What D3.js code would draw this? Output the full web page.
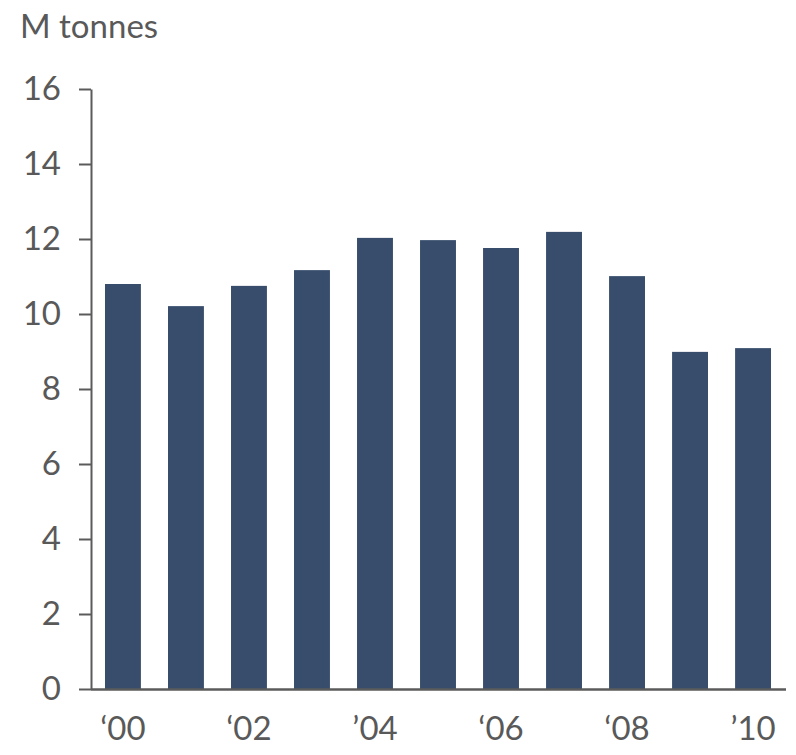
<!DOCTYPE html>
<html>
<head>
<meta charset="utf-8">
<script src="https://cdn.jsdelivr.net/npm/d3@7"></script>
<style>
  html, body { margin: 0; padding: 0; background: #fff; }
  svg text { font-family: Lato, "Open Sans", sans-serif; fill: #595959; }
</style>
</head>
<body>
<svg id="chart" width="796" height="755"></svg>
<script>
// Annual volume, million tonnes
const years = [2000, 2001, 2002, 2003, 2004, 2005, 2006, 2007, 2008, 2009, 2010];
const values = [10.8, 10.21, 10.75, 11.17, 12.03, 11.97, 11.76, 12.19, 11.01, 8.99, 9.09];
const yTicks = [0, 2, 4, 6, 8, 10, 12, 14, 16];
const xTickYears = [2000, 2002, 2004, 2006, 2008, 2010];
const xTickLabels = ["\u201800", "\u201802", "\u201904", "\u201806", "\u201808", "\u201910"];
const unitLabel = "M tonnes";

const svg = d3.select("#chart");
const axisColor = "#5b5b5b";
const barColor = "#374d6b";

const plot = { left: 91, right: 785, top: 89, bottom: 689 };

const x = d3.scaleBand()
  .domain(years)
  .range([plot.left, plot.right])
  .paddingInner(0.43)
  .paddingOuter(0.222);

const y = d3.scaleLinear().domain([0, 16]).range([plot.bottom, plot.top]);

// bars
svg.append("g")
  .selectAll("rect")
  .data(years)
  .join("rect")
  .attr("x", d => x(d))
  .attr("width", x.bandwidth())
  .attr("y", (d, i) => y(values[i]))
  .attr("height", (d, i) => y(0) - y(values[i]))
  .attr("fill", barColor);

// y axis
const yAxis = svg.append("g")
  .attr("transform", `translate(${plot.left},0)`)
  .call(d3.axisLeft(y).tickValues(yTicks).tickSize(12).tickPadding(18).tickSizeOuter(0));
yAxis.select(".domain").attr("stroke", axisColor).attr("stroke-width", 2);
yAxis.selectAll(".tick line").attr("stroke", axisColor).attr("stroke-width", 2);
yAxis.selectAll(".tick text")
  .attr("font-size", 33)
  .attr("fill", "#595959")
  .style("font-family", "Lato, 'Open Sans', sans-serif");

// x axis
const xAxis = svg.append("g")
  .attr("transform", `translate(0,${plot.bottom})`)
  .call(d3.axisBottom(x)
    .tickValues(xTickYears)
    .tickFormat(d => xTickLabels[xTickYears.indexOf(d)])
    .tickSize(0).tickPadding(28).tickSizeOuter(0));
xAxis.select(".domain").attr("stroke", axisColor).attr("stroke-width", 2.5)
  .attr("d", `M${plot.left},0.5H${plot.right + 1}`);
xAxis.selectAll(".tick text")
  .attr("font-size", 33)
  .attr("fill", "#595959")
  .style("font-family", "Lato, 'Open Sans', sans-serif");

// unit label
svg.append("text")
  .attr("x", 20)
  .attr("y", 38)
  .attr("font-size", 33)
  .text(unitLabel);
</script>
</body>
</html>
